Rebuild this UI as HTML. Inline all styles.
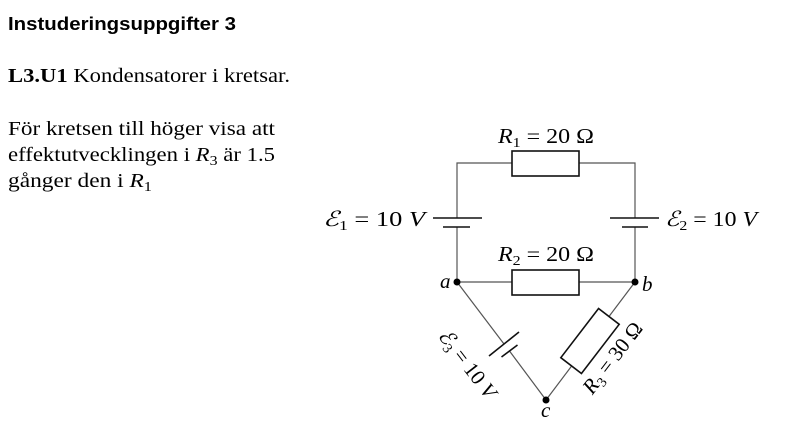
<!DOCTYPE html>
<html><head><meta charset="utf-8"><style>
body{margin:0;background:#fff;}
svg{display:block}
.s{font-family:"Liberation Serif",serif;}
</style></head><body>
<svg width="800" height="427" viewBox="0 0 800 427" xmlns="http://www.w3.org/2000/svg">
<text x="8" y="30" font-family="Liberation Sans, sans-serif" font-weight="bold" font-size="18.5" fill="#000" textLength="228" lengthAdjust="spacingAndGlyphs">Instuderingsuppgifter 3</text>
<text x="8" y="82" class="s" font-size="20" fill="#000" textLength="282" lengthAdjust="spacingAndGlyphs"><tspan font-weight="bold">L3.U1</tspan> Kondensatorer i kretsar.</text>
<text x="8" y="135" class="s" font-size="20" fill="#000" textLength="267" lengthAdjust="spacingAndGlyphs">För kretsen till höger visa att</text>
<text x="8" y="161" class="s" font-size="20" fill="#000" textLength="267" lengthAdjust="spacingAndGlyphs">effektutvecklingen i <tspan font-style="italic">R</tspan><tspan font-size="14" dy="4">3</tspan><tspan dy="-4"> är 1.5</tspan></text>
<text x="8" y="187" class="s" font-size="20" fill="#000" textLength="144" lengthAdjust="spacingAndGlyphs">gånger den i <tspan font-style="italic">R</tspan><tspan font-size="14" dy="4">1</tspan></text>

<g stroke="#555" stroke-width="1.2" fill="none">
<polyline points="457,218 457,163 635,163 635,218"/>
<line x1="457" y1="227" x2="457" y2="282"/>
<line x1="635" y1="227" x2="635" y2="282"/>
<line x1="457" y1="282" x2="635" y2="282"/>
<line x1="457" y1="282" x2="504" y2="344"/>
<line x1="509.5" y1="351" x2="546" y2="400"/>
<line x1="635" y1="282" x2="546" y2="400"/>
</g>
<g stroke="#111" stroke-width="1.6" fill="#fff">
<rect x="512" y="151" width="67" height="25"/>
<rect x="512" y="270" width="67" height="25"/>
<line x1="433" y1="218" x2="482" y2="218"/>
<line x1="443" y1="227" x2="470" y2="227"/>
<line x1="610" y1="218" x2="659" y2="218"/>
<line x1="622" y1="227" x2="648" y2="227"/>
<line x1="519" y1="332" x2="489" y2="356"/>
<line x1="517.5" y1="345" x2="501.5" y2="357"/>
<rect x="-31" y="-13" width="62" height="26" transform="translate(590,341) rotate(-52.5)"/>
</g>
<g fill="#000">
<circle cx="457" cy="282" r="3.5"/>
<circle cx="635" cy="282" r="3.5"/>
<circle cx="546" cy="400" r="3.5"/>
</g>
<g class="s" font-size="21" fill="#000">
<text x="498" y="143" textLength="96" lengthAdjust="spacingAndGlyphs"><tspan font-style="italic">R</tspan><tspan font-size="14" dy="4">1</tspan><tspan dy="-4"> = 20 Ω</tspan></text>
<text x="498" y="261" textLength="96" lengthAdjust="spacingAndGlyphs"><tspan font-style="italic">R</tspan><tspan font-size="14" dy="4">2</tspan><tspan dy="-4"> = 20 Ω</tspan></text>
<text x="323" y="226" textLength="102" lengthAdjust="spacingAndGlyphs"><tspan font-style="italic">ℰ</tspan><tspan font-size="14" dy="4">1</tspan><tspan dy="-4"> = 10 </tspan><tspan font-style="italic">V</tspan></text>
<text x="665" y="226" textLength="92" lengthAdjust="spacingAndGlyphs"><tspan font-style="italic">ℰ</tspan><tspan font-size="14" dy="4">2</tspan><tspan dy="-4"> = 10 </tspan><tspan font-style="italic">V</tspan></text>
<text x="440" y="288" font-style="italic">a</text>
<text x="642" y="291" font-style="italic">b</text>
<text x="541" y="417" font-style="italic">c</text>
<text text-anchor="middle" transform="translate(462,368) rotate(52.5)"><tspan font-style="italic">ℰ</tspan><tspan font-size="14" dy="4">3</tspan><tspan dy="-4"> = 10 </tspan><tspan font-style="italic">V</tspan></text>
<text text-anchor="middle" transform="translate(618,362) rotate(-52.5)"><tspan font-style="italic">R</tspan><tspan font-size="14" dy="4">3</tspan><tspan dy="-4"> = 30 Ω</tspan></text>
</g>
</svg>
</body></html>
